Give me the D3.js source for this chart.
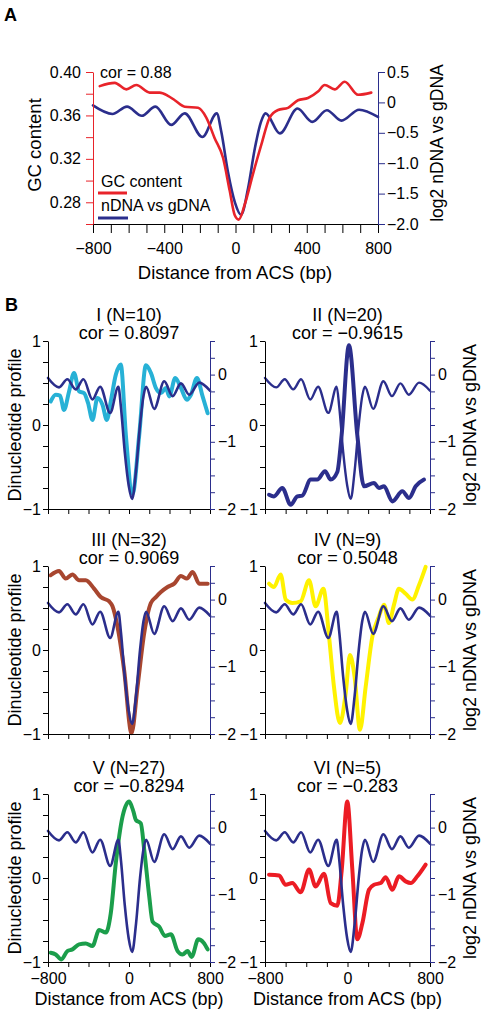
<!DOCTYPE html>
<html><head><meta charset="utf-8">
<script src="https://cdn.jsdelivr.net/npm/d3@7"></script>
<style>body{margin:0;background:#fff} text{font-family:Arial,"Liberation Sans",sans-serif}</style>
</head><body><script>
// ---------- DATA ----------
// shared nDNA vs gDNA profile (log2), x in bp
const ntX = [-800,-691,-609,-526,-450,-361,-285,-186,-105,-80,-42,-3,31,70,109,143,169,249,348,431,513,595,694,800];
const ntY = [-0.05,-0.19,-0.07,-0.22,-0.07,-0.37,-0.18,-0.57,-0.18,-0.48,-1.15,-1.65,-1.85,-1.42,-0.75,-0.32,-0.18,-0.51,-0.1,-0.32,-0.13,-0.3,-0.12,-0.24];
// panel A GC content
const gcX = [-762,-678,-613,-557,-482,-426,-379,-341,-285,-210,-164,-117,-70,-33,-4,18,52,98,145,192,239,295,351,407,463,501,557,613,688,762];
const gcY = [0.387,0.390,0.384,0.388,0.381,0.381,0.378,0.374,0.368,0.367,0.358,0.339,0.321,0.291,0.268,0.264,0.278,0.306,0.333,0.358,0.365,0.367,0.374,0.376,0.382,0.388,0.384,0.391,0.379,0.381];
// panel B dinucleotide profiles
const p1X = [-774,-724,-681,-642,-592,-543,-493,-444,-404,-361,-312,-262,-219,-180,-130,-81,-31,35,101,167,216,266,315,365,398,457,513,572,612,671,727,777];
const p1Y = [0.28,0.36,0.35,0.18,0.40,0.62,0.40,0.38,0.26,0.06,0.32,0.24,0.06,0.28,0.60,0.72,-0.12,-0.82,-0.12,0.71,0.62,0.44,0.38,0.44,0.34,0.56,0.44,0.30,0.36,0.56,0.34,0.14];
const p2X = [-761,-713,-632,-551,-486,-438,-357,-293,-218,-163,-99,-57,14,95,160,257,305,354,435,532,596,661,742];
const p2Y = [-0.83,-0.85,-0.75,-0.95,-0.85,-0.84,-0.65,-0.65,-0.55,-0.65,-0.56,-0.12,0.95,-0.12,-0.73,-0.69,-0.75,-0.73,-0.91,-0.79,-0.87,-0.73,-0.65];
const p3X = [-774,-691,-625,-559,-493,-427,-345,-279,-196,-163,-114,-48,25,84,150,216,266,315,381,447,513,572,628,694,777];
const p3Y = [0.89,0.94,0.85,0.90,0.83,0.83,0.73,0.63,0.58,0.52,0.28,-0.24,-0.99,-0.44,0.20,0.56,0.63,0.69,0.75,0.79,0.88,0.85,0.93,0.79,0.79];
const p4X = [-761,-713,-648,-599,-535,-454,-373,-309,-234,-179,-131,-73,-18,24,69,121,176,241,305,354,402,451,499,564,629,693,758];
const p4Y = [0.79,0.75,0.90,0.60,0.56,0.58,0.83,0.52,0.73,0.16,-0.44,-0.87,-0.52,-0.06,-0.32,-0.95,-0.44,0.16,0.40,0.54,0.32,0.54,0.73,0.67,0.60,0.77,0.99];
const p5X = [-774,-724,-668,-609,-559,-493,-427,-361,-295,-229,-180,-130,-64,2,44,68,117,150,200,233,299,355,414,480,529,579,618,684,737,777];
const p5Y = [-0.89,-0.91,-0.97,-0.87,-0.85,-0.79,-0.78,-0.81,-0.62,-0.65,-0.42,0.18,0.73,0.91,0.79,0.69,0.65,0.34,-0.22,-0.52,-0.58,-0.69,-0.67,-0.87,-0.91,-0.87,-0.94,-0.73,-0.77,-0.85];
const p6X = [-761,-664,-600,-535,-454,-373,-309,-228,-163,-99,-57,-2,47,95,144,208,257,322,370,435,499,564,613,677,758];
const p6Y = [0.04,0.03,-0.08,-0.06,-0.17,0.10,-0.10,0.05,-0.30,-0.33,0.08,0.91,0.10,-0.73,-0.54,-0.14,-0.08,-0.06,0.01,-0.14,0.02,-0.04,-0.06,0.02,0.16];

const titles = ["I (N=10)","II (N=20)","III (N=32)","IV (N=9)","V (N=27)","VI (N=5)"];
const cors = ["cor = 0.8097","cor = \u22120.9615","cor = 0.9069","cor = 0.5048","cor = \u22120.8294","cor = \u22120.283"];
const colors = ["#27b1d6","#2b2e8c","#a8462f","#fff200","#1b9e4b","#ec1c24"];

const xTicksA = d3.range(-800, 801, 100), xLabelsA = [-800,-400,0,400,800];
const gcTicks = [0.26,0.28,0.30,0.32,0.34,0.36,0.38,0.40], gcLabels = [0.28,0.32,0.36,0.40];
const logTicksA = [-2,-1.5,-1,-0.5,0,0.5];
const xTicksB = d3.range(-800, 801, 200), xLabelsB = [-800,0,800];
const leftTicksB = [-1,-0.75,-0.5,-0.25,0,0.25,0.5,0.75,1], leftLabelsB = [-1,0,1];
const rightTicksB = [-2,-1.75,-1.5,-1.25,-1,-0.75,-0.5,-0.25,0,0.25,0.5], rightLabelsB = [-2,-1,0];

// ---------- DRAW ----------
const NAVY = "#2b2e8c", FONT = 'Arial,"Liberation Sans",sans-serif';
const svg = d3.select("body").append("svg").attr("width",483).attr("height",1014);
const fmtI = d3.format("d");
const zip = (xs, ys) => xs.map((x,i)=>[x, ys[i]]);

function styleAxis(g, color){
  g.attr("font-size",16).attr("font-family",FONT);
  g.select(".domain").attr("stroke",color);
  g.selectAll(".tick line").attr("stroke",color);
  g.selectAll(".tick text").attr("fill","#000");
}
function drawLine(x, y, pts, color, w){
  svg.append("path").datum(pts)
    .attr("d", d3.line().x(d=>x(d[0])).y(d=>y(d[1])).curve(d3.curveMonotoneX))
    .attr("fill","none").attr("stroke",color).attr("stroke-width",w)
    .attr("stroke-linejoin","round").attr("stroke-linecap","round");
}
function txt(x,y,s,size,anchor,extra){
  const t = svg.append("text").attr("x",x).attr("y",y).text(s)
    .attr("font-size",size).attr("text-anchor",anchor||"start").attr("fill","#000");
  if(extra) extra(t);
  return t;
}
function vtxt(x,y,s,size){
  svg.append("text").attr("transform",`translate(${x},${y}) rotate(-90)`)
    .attr("text-anchor","middle").attr("font-size",size).attr("fill","#000").text(s);
}

// Panel A
txt(4,21,"A",18,"start",t=>t.attr("font-weight","bold"));
const xA = d3.scaleLinear([-800,800],[93,378]);
const yGC = d3.scaleLinear([0.26,0.40],[224,72]);
const yLA = d3.scaleLinear([-2,0.5],[224,72]);
drawLine(xA, yLA, zip(ntX, ntY), NAVY, 2.6);
drawLine(xA, yGC, zip(gcX, gcY), "#e8232a", 2.6);
styleAxis(svg.append("g").attr("transform","translate(0,224)")
  .call(d3.axisBottom(xA).tickValues(xTicksA).tickSize(9).tickPadding(10).tickSizeOuter(0)
  .tickFormat(d=>xLabelsA.includes(d)?fmtI(d):"")), "#000");
styleAxis(svg.append("g").attr("transform","translate(93,0)")
  .call(d3.axisLeft(yGC).tickValues(gcTicks).tickSize(7).tickPadding(5).tickSizeOuter(0)
  .tickFormat(d=>gcLabels.some(v=>Math.abs(v-d)<1e-9)?d3.format(".2f")(d):"")), "#e8232a");
styleAxis(svg.append("g").attr("transform","translate(378,0)")
  .call(d3.axisRight(yLA).tickValues(logTicksA).tickSize(7).tickPadding(2).tickSizeOuter(0)
  .tickFormat(d=>d===0?"0":d3.format(".1f")(d))), NAVY);
txt(100,78,"cor = 0.88",16);
txt(101,187,"GC content",16);
svg.append("line").attr("x1",98).attr("x2",127).attr("y1",193).attr("y2",193).attr("stroke","#e8232a").attr("stroke-width",3);
txt(101,211,"nDNA vs gDNA",16);
svg.append("line").attr("x1",98).attr("x2",128).attr("y1",218).attr("y2",218).attr("stroke",NAVY).attr("stroke-width",3);
txt(235,279,"Distance from ACS (bp)",18.5,"middle");
vtxt(41,145,"GC content",18.5);
vtxt(443,143,"log2 nDNA vs gDNA",17.5);

// Panel B
txt(5,311,"B",18,"start",t=>t.attr("font-weight","bold"));
const seriesB = [zip(p1X,p1Y),zip(p2X,p2Y),zip(p3X,p3Y),zip(p4X,p4Y),zip(p5X,p5Y),zip(p6X,p6Y)];
const cols = [[48,210],[265,430]];
const rows = [341,566,794];
const PH = 168;
seriesB.forEach((pts,i)=>{
  const c = i%2, r = Math.floor(i/2);
  const [x0,x1] = cols[c], top = rows[r], bot = top+PH;
  const x = d3.scaleLinear([-800,800],[x0,x1]);
  const yL = d3.scaleLinear([-1,1],[bot,top]);
  const yR = d3.scaleLinear([-2,0.5],[bot,top]);
  drawLine(x, yL, pts, colors[i], 4);
  drawLine(x, yR, zip(ntX,ntY), NAVY, i===1?2.4:2.6);
  styleAxis(svg.append("g").attr("transform",`translate(0,${bot})`)
    .call(d3.axisBottom(x).tickValues(xTicksB).tickSize(5).tickPadding(6).tickSizeOuter(0)
    .tickFormat(d=>(r===2&&xLabelsB.includes(d))?fmtI(d):"")), "#000");
  styleAxis(svg.append("g").attr("transform",`translate(${x0},0)`)
    .call(d3.axisLeft(yL).tickValues(leftTicksB).tickSize(5).tickPadding(2).tickSizeOuter(0)
    .tickFormat(d=>leftLabelsB.includes(d)?fmtI(d):"")), "#000");
  styleAxis(svg.append("g").attr("transform",`translate(${x1},0)`)
    .call(d3.axisRight(yR).tickValues(rightTicksB).tickSize(5).tickPadding(3).tickSizeOuter(0)
    .tickFormat(d=>rightLabelsB.includes(d)?fmtI(d):"")), NAVY);
  const cx = (x0+x1)/2;
  txt(cx, top-20, titles[i], 18, "middle");
  txt(cx, top-2, cors[i], 18, "middle");
  if(c===0) vtxt(21, top+PH/2, "Dinucleotide profile", 18);
  else vtxt(476, top+PH/2, "log2 nDNA vs gDNA", 18);
  if(r===2) txt(cx, 1005, "Distance from ACS (bp)", 18, "middle");
});
</script></body></html>
